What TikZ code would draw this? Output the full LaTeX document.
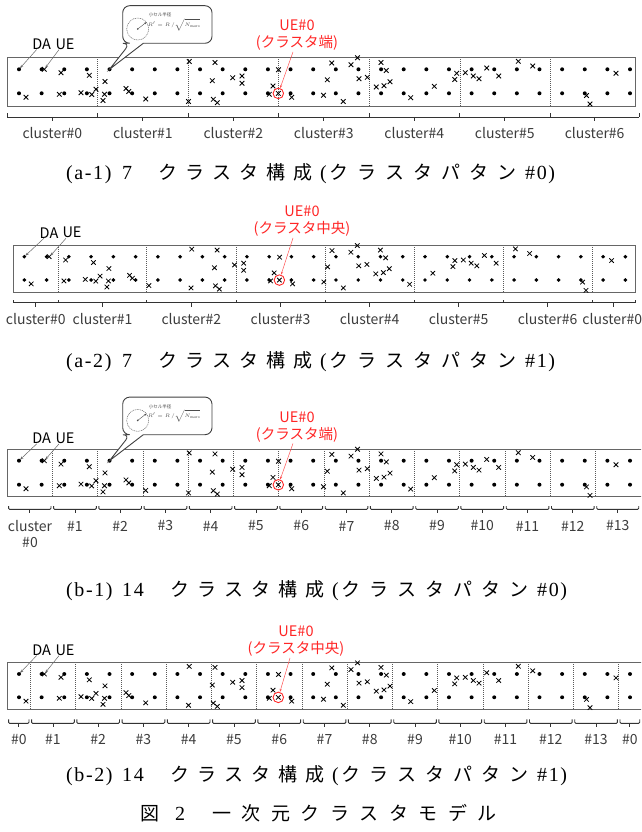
\documentclass[tikz,border=0pt]{standalone}
\usepackage{fontspec}
\setmainfont{Liberation Serif}
\newfontfamily\jp{Noto Sans CJK JP}
\newfontfamily\capjp{Noto Sans CJK JP}
\newfontfamily\caplat[LetterSpace=8]{Liberation Serif}
\usetikzlibrary{arrows.meta}
\definecolor{uered}{RGB}{255,38,38}
\definecolor{labgray}{RGB}{60,60,60}
\newcommand\capfs{\fontsize{19}{22}\selectfont}
\newcommand\latfs{\fontsize{20}{22}\selectfont}
\newcommand\Jc[1]{\makebox[27pt][l]{\capjp #1}}
\newcommand\Kc[1]{\makebox[28pt][l]{\capjp #1}}
\newcommand\Fc[1]{\makebox[29.5pt][l]{\capjp #1}}
\newcommand\Lt[2]{\makebox[#1][l]{\caplat\latfs #2}}
\newcommand\captail{\Jc{ク}\Jc{ラ}\Jc{ス}\Jc{タ}\Jc{構}\Jc{成}\Lt{9pt}{(}\Kc{ク}\Kc{ラ}\Kc{ス}\Kc{タ}\Kc{パ}\Kc{タ}\Kc{ン}}
\def\uelist{44.3/69.3, 61/72.7, 89.3/75.3, 26/97.3, 59.3/94.3, 81/92.7, 91.7/94.5, 96/89.3, 105/81.5, 104.5/94.3, 103/100.5, 126/88.5, 128.8/91.5, 145.7/99, 189.2/61.5, 188.5/101.5, 215/62.5, 212.3/80.7, 232.7/77.8, 242/76, 242/83.3, 213.3/99.3, 217.3/102.7, 278.5/69.8, 273/86, 269.3/94.3, 278.3/93.4, 291.7/97.3, 323.5/95.3, 327.3/79.8, 331.8/63, 343.3/101.5, 351/64.7, 357.5/57.8, 359/78.7, 367.3/77.3, 381/62.5, 386.3/70.5, 376.3/87, 384/85.7, 390/81.7, 410.7/97.7, 434.3/86.3, 456.7/73.3, 454.7/79.5, 465.3/72.7, 473.3/76, 479/78.7, 486.7/68, 498.7/76, 518.3/61.3, 532.7/66, 616/73.3, 586.5/95.5, 590/104}
\tikzset{
  frame/.style={draw=black!60, line width=0.7pt},
  bnd/.style={draw=black!65, line width=0.6pt, dash pattern=on 1pt off 1pt},
  da/.style={fill=black},
  uex/.style={draw=black, line width=0.8pt},
  brk/.style={draw=black!80, line width=0.9pt},
  lab/.style={font=\jp\fontsize{14}{16}\selectfont, text=labgray, inner sep=0pt},
  dalab/.style={font=\jp\fontsize{14.5}{16}\selectfont, text=black, inner sep=0pt},
  lblarr/.style={draw=black!60, line width=0.5pt, -{Stealth[length=3.5pt,width=2.5pt]}},
  redlab/.style={font=\jp\fontsize{14.5}{17}\selectfont, text=uered, align=center, inner sep=0pt},
  redcirc/.style={circle, draw=uered, line width=0.9pt, minimum size=10.5pt, inner sep=0pt},
  redarr/.style={draw=uered!80, line width=0.5pt, -{Stealth[length=3pt,width=2.2pt]}},
  bub/.style={draw=black!75, line width=0.9pt, fill=white},
  bubc/.style={draw=black!60, line width=0.5pt, dash pattern=on 1pt off 0.8pt},
  bubarr/.style={draw=black!70, line width=0.4pt, -{Stealth[length=2.5pt,width=1.8pt]}},
  captxt/.style={inner sep=0pt, anchor=west, font=\capfs},
}
\newcommand\panelmarks[1]{%
  \foreach \k in {0,...,27} {\fill[da] ({19+22.63*\k},69.3) circle (2) ({19+22.63*\k},93.3) circle (2);}
  \foreach \x/\y in \uelist {\draw[uex] (\x-2.3,\y-2.3) -- (\x+2.3,\y+2.3) (\x-2.3,\y+2.3) -- (\x+2.3,\y-2.3);}
  \node[redcirc] (#1) at (278.3,93.4) {};
}
\newcommand\bubblepic[2]{%
  \begin{scope}[shift={(0,#1)}]
    \draw[bub, rounded corners=7pt] (143.3,43.3) -- (212,43.3) -- (212,5.7) -- (122.7,5.7) -- (122.7,43.3) -- (130,43.3) [sharp corners] -- (109.5,69.3) -- cycle;
    \draw[bubc] (137.7,29) circle (11);
    \fill[black!70] (137.7,29) circle (0.9);
    \coordinate (#2c) at (137.7,29);
    \coordinate (#2e) at (146.5,22.2);
    \draw[bubarr] (#2c) -- (#2e);
    \node[inner sep=0pt, text=black!70, font=\jp\fontsize{4.5}{5}\selectfont] (#2t) at (160,15) {小セル半径};
    \node[inner sep=0pt, text=black!70, font=\fontsize{5.5}{6}\selectfont] (#2f) at (174,24.5) {$R' = R\,/\sqrt{N_{\mathrm{macro}}}$};
  \end{scope}
}
\begin{document}
\begin{tikzpicture}[x=1pt,y=-1pt]
\useasboundingbox (0,0) rectangle (641,832);
\clip (0,0) rectangle (641,832);

% ================= (a-1) =================
\foreach \b in {97.5,188.3,278.5,369.3,460.5,550.7} \draw[bnd] (\b,57.3) -- (\b,106);
\draw[frame] (7.3,57.3) rectangle (635,106);
\panelmarks{rcA}
\draw[brk] (7.3,117) -- (639.3,117);
\foreach \e in {7.3,97.5,188.3,278.5,369,459.5,550,639.3} \draw[brk] (\e,113.3) -- (\e,117);
\foreach \c [count=\i from 0] in {52.4,142.9,233.4,323.75,414.25,504.75,594.65} {
  \draw[brk] (\c,117) -- (\c,121);
  \node[lab] (cA\i) at (\c,133) {cluster\#\i};
}
\bubblepic{0}{bA}
\node[dalab] (daA) at (41.7,44) {DA};
\node[dalab] (ueA) at (65,44) {UE};
\coordinate (daAt) at (19,69.3);
\coordinate (ueAt) at (44.3,69.3);
\draw[lblarr, shorten >=1.5pt] ([xshift=-5pt]daA.south) -- (daAt);
\draw[lblarr, shorten >=1.5pt] ([xshift=-6pt]ueA.south) -- (ueAt);
\node[redlab] (rlA) at (297,35.5) {UE\#0\\(クラスタ端)};
\draw[redarr] ([xshift=-4pt,yshift=-1pt]rlA.south) -- (rcA);
\node[captxt] (capA1) at (66,174) {\Lt{56pt}{(a-1)}\Lt{36pt}{7}\captail\Lt{30pt}{\#0)}};

% ================= (a-2) =================
\foreach \b in {58.3,146.7,236,325,414.3,503.3,592.7} \draw[bnd] (\b,245) -- (\b,292);
\draw[frame] (13.3,245) rectangle (635.7,292);
\begin{scope}[shift={(5.61,189.42)}, xscale=0.9837, yscale=0.9708]
  \panelmarks{rcB}
\end{scope}
\draw[brk] (13.3,302.7) -- (635.5,302.7);
\foreach \e in {13.3,58.3,146.7,236,325,414.2,503,592.2,635.5} \draw[brk] (\e,300) -- (\e,302.7);
\foreach \c/\t/\p [count=\i] in {35.8/0/35.8,102.5/1/102.5,191.35/2/191.35,280.5/3/280.5,369.6/4/369.6,458.6/5/458.6,547.6/6/547.6,613.85/0/612.3} {
  \draw[brk] (\c,302.7) -- (\c,306.7);
  \node[lab] (cB\i) at (\p,319.3) {cluster\#\t};
}
\node[dalab] (daB) at (49,232.7) {DA};
\node[dalab] (ueB) at (72,232.7) {UE};
\coordinate (daBt) at (24.3,256.7);
\coordinate (ueBt) at (49.5,256.7);
\draw[lblarr, shorten >=1.5pt] ([xshift=-5pt]daB.south) -- (daBt);
\draw[lblarr, shorten >=1.5pt] ([xshift=-6pt]ueB.south) -- (ueBt);
\node[redlab] (rlB) at (302,221.5) {UE\#0\\(クラスタ中央)};
\draw[redarr] ([xshift=-9pt,yshift=-1pt]rlB.south) -- (rcB);
\node[captxt] (capA2) at (66,362) {\Lt{56pt}{(a-2)}\Lt{36pt}{7}\captail\Lt{30pt}{\#1)}};

% ================= (b-1) =================
\foreach \b in {52.3,97.6,142.8,188.1,233.3,278.6,323.9,369.1,414.4,459.6,504.9,550.2,595.4} \draw[bnd] (\b,449) -- (\b,496.3);
\draw[frame] (7.3,449) rectangle (645,496.3);
\begin{scope}[shift={(0,391.4)}]
  \panelmarks{rcC}
\end{scope}
\foreach \l/\r [count=\i from 0] in {7.3/52.3,52.3/97.6,97.6/142.8,142.8/188.1,188.1/233.3,233.3/278.6,278.6/323.9,323.9/369.1,369.1/414.4,414.4/459.6,459.6/504.9,504.9/550.2,550.2/595.4,595.4/640} {
  \draw[brk, rounded corners=1pt] (\l+1.3,506) -- (\l+1.3,509.3) -- (\r-1.3,509.3) -- (\r-1.3,506);
  \draw[brk] ({(\l+\r)/2},509.3) -- ({(\l+\r)/2},513.3);
  \ifnum\i>0 \node[lab] (cC\i) at ({(\l+\r)/2},526) {\#\i}; \fi
}
\node[lab, align=center, font=\jp\fontsize{14}{15.7}\selectfont] (cC0) at (30,533.8) {cluster\\\#0};
\bubblepic{391.4}{bC}
\node[dalab] (daC) at (41.7,438.3) {DA};
\node[dalab] (ueC) at (65,438.3) {UE};
\coordinate (daCt) at (19,460.7);
\coordinate (ueCt) at (44.3,460.7);
\draw[lblarr, shorten >=1.5pt] ([xshift=-5pt]daC.south) -- (daCt);
\draw[lblarr, shorten >=1.5pt] ([xshift=-6pt]ueC.south) -- (ueCt);
\node[redlab] (rlC) at (297,427) {UE\#0\\(クラスタ端)};
\draw[redarr] ([xshift=-4pt,yshift=-1pt]rlC.south) -- (rcC);
\node[captxt] (capB1) at (66,591) {\Lt{56pt}{(b-1)}\Lt{48pt}{14}\captail\Lt{30pt}{\#0)}};

% ================= (b-2) =================
\foreach \b in {30.3,75.6,120.8,166.1,211.3,256.6,301.9,347.1,392.4,437.6,482.9,528.2,573.4,618.7} \draw[bnd] (\b,662.3) -- (\b,709.3);
\draw[frame] (7.3,662.3) rectangle (645,709.3);
\begin{scope}[shift={(0,606.72)}, yscale=0.9708]
  \panelmarks{rcD}
\end{scope}
\foreach \l/\r/\t [count=\i] in {7.3/30.3/0,30.3/75.6/1,75.6/120.8/2,120.8/166.1/3,166.1/211.3/4,211.3/256.6/5,256.6/301.9/6,301.9/347.1/7,347.1/392.4/8,392.4/437.6/9,437.6/482.9/10,482.9/528.2/11,528.2/573.4/12,573.4/618.7/13,618.7/641/0} {
  \draw[brk, rounded corners=1pt] (\l+1.3,719.3) -- (\l+1.3,723.3) -- (\r-1.3,723.3) -- (\r-1.3,719.3);
  \draw[brk] ({(\l+\r)/2},723.3) -- ({(\l+\r)/2},727.3);
  \node[lab] (cD\i) at ({(\l+\r)/2},739) {\#\t};
}
\node[dalab] (daD) at (41.7,650) {DA};
\node[dalab] (ueD) at (65,650) {UE};
\coordinate (daDt) at (19,674);
\coordinate (ueDt) at (44.3,674);
\draw[lblarr, shorten >=1.5pt] ([xshift=-5pt]daD.south) -- (daDt);
\draw[lblarr, shorten >=1.5pt] ([xshift=-6pt]ueD.south) -- (ueDt);
\node[redlab] (rlD) at (296,641.5) {UE\#0\\(クラスタ中央)};
\draw[redarr] ([xshift=-6pt,yshift=-1pt]rlD.south) -- (rcD);
\node[captxt] (capB2) at (66,776) {\Lt{56pt}{(b-2)}\Lt{48pt}{14}\captail\Lt{30pt}{\#1)}};

% ================= figure caption =================
\node[captxt] (fig) at (140,813) {\makebox[35pt][l]{\capjp 図}\makebox[37pt][l]{\caplat\latfs 2}\Fc{一}\Fc{次}\Fc{元}\Fc{ク}\Fc{ラ}\Fc{ス}\Fc{タ}\Fc{モ}\Fc{デ}\Fc{ル}};
\end{tikzpicture}
\end{document}
